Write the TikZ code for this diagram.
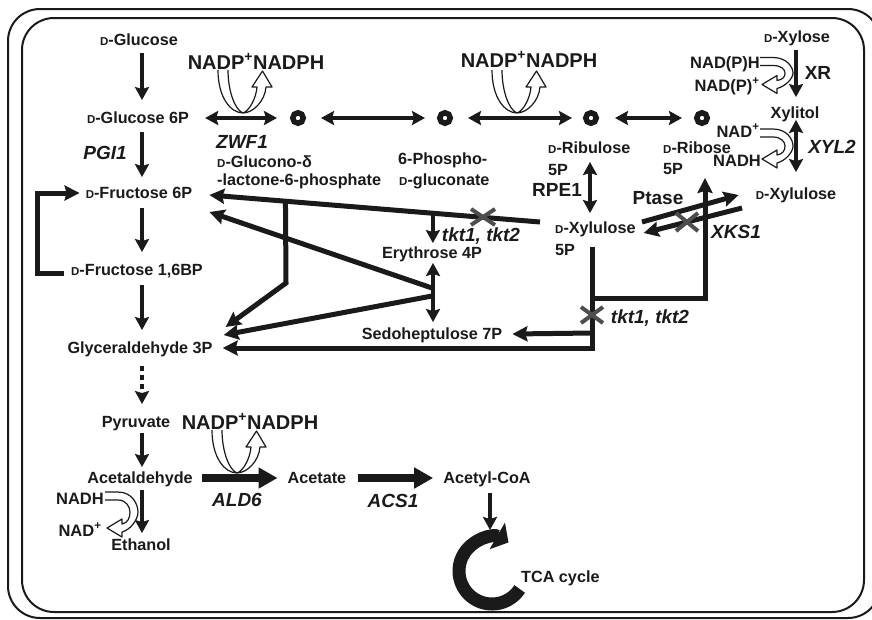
\documentclass[tikz,border=0pt]{standalone}
\usepackage{fontspec}
\setmainfont{Liberation Sans}
\usetikzlibrary{arrows.meta,calc}

% small capital D for the D-sugars
\newcommand\smD{{\fontsize{11.5}{12}\selectfont D}}
\definecolor{ink}{HTML}{1A1A1A}
\definecolor{xgray}{HTML}{4D4D4D}

\tikzset{
  every node/.style={inner sep=0pt, text=ink},
  nm/.style={font=\bfseries\fontsize{16.2}{18}\selectfont, text height=11.5pt, text depth=0pt},
  enz/.style={font=\bfseries\itshape\fontsize{19}{21}\selectfont, text height=13.5pt, text depth=0pt},
  big/.style={font=\bfseries\fontsize{20}{22}\selectfont, text height=14.5pt, text depth=0pt},
  midf/.style={font=\bfseries\fontsize{19}{21}\selectfont, text height=13.5pt, text depth=0pt},
  cof/.style={font=\bfseries\fontsize{16.5}{18}\selectfont, text height=12pt, text depth=0pt},
  tipA/.tip={Stealth[length=13pt,width=14pt,inset=2pt]},
  tipB/.tip={Stealth[length=15pt,width=15pt,inset=2pt]},
  arr/.style={draw=ink, line width=4.6, -tipA},
  darr/.style={draw=ink, line width=4.2, tipA-tipA},
  route/.style={draw=ink, line width=5, -tipB},
  thk/.style={draw=ink, line width=8, -{Triangle[length=19pt,width=20pt]}},
  ring/.style={circle, draw=ink, line width=5.5, minimum size=10.5pt},
  gx/.style={draw=xgray, line width=4},
  frame/.style={draw=ink, line width=2, rounded corners=32},
  openarr/.style={fill=white, draw=ink, line width=1.2, line join=round},
  % open U arrow: cofactor in, cofactor out (origin at its lowest point)
  uarr/.pic={
    \path[openarr] (-25,-43) .. controls (-25,-15) and (-12,0) .. (0,0)
      .. controls (10,0) and (22,-12) .. (23,-26) -- (29,-26) -- (19.5,-42)
      -- (9,-26) -- (14,-26) .. controls (13,-14) and (6,-2) .. (0,0)
      .. controls (-8,-3) and (-15,-22) .. (-15,-43);
  },
  % open side arrow: upper cofactor in, lower cofactor out (origin at its rightmost point)
  pics/sidearr/.style={code={
    \def\h{#1}
    \path[openarr] (-33,{-\h-4}) -- (-20,{-\h-4}) .. controls (-6,{-\h-4}) and (0,{-\h/2}) .. (0,0)
      .. controls (0,{\h/2}) and (-8,{\h+2}) .. (-16,{\h+4}) -- (-16,{\h+9}) -- (-31,{\h})
      -- (-16,{\h-9}) -- (-16,{\h-4}) .. controls (-10,{\h-5}) and (-8,{\h/3}) .. (-8,0)
      .. controls (-8,{-\h/3}) and (-12,{-\h+4}) .. (-20,{-\h+4}) -- (-33,{-\h+4});
  }},
}

\begin{document}
\begin{tikzpicture}[x=1pt,y=-1pt]
\useasboundingbox (0,0) rectangle (872,619);

% double rounded frame
\draw[frame] (8,9) rectangle (880,618);
\draw[frame] (22,18) rectangle (864,612);

% open cofactor arrows (drawn first so the labels sit on top)
\pic at (243,113) {uarr};
\pic at (517,113) {uarr};
\pic at (237,473) {uarr};
\pic at (793,73) {sidearr=11.5};
\pic at (793,146) {sidearr=13};
\pic at (138,512) {sidearr=16};

% ---- glycolysis column ----
\coordinate (cx) at (142,0);
\node[nm] (glc) at (139,40) {\smD-Glucose};
\node[nm] (g6p) at (138,118) {\smD-Glucose 6P};
\node[nm] (f6p) at (139,193) {\smD-Fructose 6P};
\node[nm] (fbp) at (137,270) {\smD-Fructose 1,6BP};
\node[nm] (gap) at (140,348) {Glyceraldehyde 3P};
\node[nm] (pyr) at (136,422) {Pyruvate};
\node[nm] (acd) at (140,478) {Acetaldehyde};
\node[nm] (eth) at (141,545) {Ethanol};
\node[enz] (pgi) at (105,153) {PGI1};

\draw[arr, shorten <=7pt, shorten >=12pt] (glc.south -| cx) -- (g6p.north -| cx);
\draw[arr, shorten <=8pt, shorten >=10pt] (g6p.south -| cx) -- (f6p.north -| cx);
\draw[arr, shorten <=9pt, shorten >=12pt] (f6p.south -| cx) -- (fbp.north -| cx);
\draw[arr, shorten <=9pt, shorten >=12pt] (fbp.south -| cx) -- (gap.north -| cx);
\draw[arr, dash pattern=on 5pt off 4pt, shorten <=12pt, shorten >=12pt] (gap.south -| cx) -- (pyr.north -| cx);
\draw[arr, shorten <=5pt, shorten >=5pt] (pyr.south -| cx) -- (acd.north -| cx);
\draw[arr, shorten <=6pt, shorten >=6pt] (acd.south -| cx) -- (eth.north -| cx);

% gluconeogenic loop F-1,6-BP -> F6P
\coordinate (lp) at (37,0);
\draw[route] ($(fbp.west)+(-7,3)$) -| (lp |- f6p.west) -- ($(f6p.west)+(-6,0)$);

% ---- oxidative pentose phosphate branch ----
\node[ring] (c1) at (298,118) {};
\node[ring] (c2) at (445,118) {};
\node[ring] (c3) at (591,118) {};
\node[ring] (c4) at (702,118) {};
\draw[darr, shorten <=16pt, shorten >=13pt] (g6p.east) -- (c1.west);
\draw[darr, shorten <=15pt, shorten >=12pt] (c1.east) -- (c2.west);
\draw[darr, shorten <=15pt, shorten >=11pt] (c2.east) -- (c3.west);
\draw[darr, shorten <=16pt, shorten >=12pt] (c3.east) -- (c4.west);

\node[enz] (zwf) at (242,142) {ZWF1};
\node[nm, anchor=west] (gl1) at (217,162) {\smD-Glucono-δ};
\node[nm, anchor=west] (gl2) at (217,180) {-lactone-6-phosphate};
\node[nm, anchor=west] (pg1) at (398,159) {6-Phospho-};
\node[nm, anchor=west] (pg2) at (399,180) {\smD-gluconate};

\node[big] (np1) at (256,62) {NADP\textsuperscript{+}NADPH};
\node[big] (np2) at (529,60) {NADP\textsuperscript{+}NADPH};

% ---- non-oxidative part ----
\node[nm, anchor=west] (ru1) at (548,148) {\smD-Ribulose};
\node[nm, anchor=west] (ru2) at (548,170) {5P};
\node[midf] (rpe) at (557,190) {RPE1};
\node[nm, anchor=west] (xu1) at (555,228) {\smD-Xylulose};
\node[nm, anchor=west] (xu2) at (555,250) {5P};
\node[nm, anchor=west] (ri1) at (663,148) {\smD-Ribose};
\node[nm, anchor=west] (ri2) at (663,169) {5P};
\coordinate (rx) at (590,0);
\draw[darr, shorten <=8pt, shorten >=9pt] (ru1.south -| rx) -- (xu1.north -| rx);

\node[nm] (e4p) at (432,253) {Erythrose 4P};
\node[nm] (s7p) at (432,334) {Sedoheptulose 7P};
\node[enz] (tk1) at (481,235) {tkt1, tkt2};
\node[enz] (tk2) at (650,317) {tkt1, tkt2};

% Xu5P stem to GAP, with branches to Ru5P side and S7P
\coordinate (xv) at (592,247);
\coordinate (xc) at (592,348);
\coordinate (xb) at (592,298);
\coordinate (xs) at (592,333);
\coordinate (rb) at (705,298);
\draw[route] (xv) -- (xc) -- ($(gap.east)+(10,0)$);
\draw[route] (xb) -- (rb) -- ($(ri2.south -| rb)+(0,3)$);
\draw[route] (xs) -- ($(s7p.east)+(10,0)$);

% transketolase line from Xu5P to F6P, with its branches
\coordinate (fa) at (540,222);
\coordinate (f6pA) at ($(f6p.east)+(17,2)$);
\coordinate (fb) at ($(fa)!0.324!(f6pA)$);
\coordinate (fc) at ($(fa)!0.770!(f6pA)$);
\coordinate (fd) at (286,283);
\draw[route] (fa) -- (f6pA);
\draw[arr, shorten >=4pt] (fb) -- (e4p.north -| fb);
\draw[route] (fc) -- (fd) -- ($(gap.east)+(13,-21)$);

% transaldolase lines from E4P/S7P junction
\coordinate (ea) at (432,288);
\coordinate (eb) at (432,296);
\draw[route] (ea) -- ($(f6p.east)+(17,19)$);
\draw[route] (eb) -- ($(gap.east)+(11,-13)$);
\coordinate (ex) at (433,0);
\draw[darr, shorten <=4pt, shorten >=6pt] (e4p.south -| ex) -- (s7p.north -| ex);

% ---- xylose utilisation ----
\node[nm] (xyl) at (797,37) {\smD-Xylose};
\node[nm] (xlt) at (795,113) {Xylitol};
\node[nm] (xlu) at (796,194) {\smD-Xylulose};
\node[cof] (nph) at (725,62) {NAD(P)H};
\node[cof] (npp) at (727,85) {NAD(P)\textsuperscript{+}};
\node[midf] (xr) at (818,73) {XR};
\node[cof] (nad1) at (738,131) {NAD\textsuperscript{+}};
\node[cof] (nadh1) at (737,160) {NADH};
\node[enz] (xyl2) at (832,147) {XYL2};
\coordinate (vx) at (796,0);
\draw[arr, shorten <=7pt, shorten >=10pt] (xyl.south -| vx) -- (xlt.north -| vx);
\draw[darr, shorten <=1pt, shorten >=16pt] (xlt.south -| vx) -- (xlu.north -| vx);

\node[midf] (pt) at (658,198) {Ptase};
\node[enz] (xks) at (736,232) {XKS1};
\coordinate (pa) at (642,222);
\coordinate (ka) at (742,208);
\draw[route] (pa) -- ($(xlu.west)+(-17,1)$);
\draw[route] (ka) -- ($(xu1.east)+(8,5)$);

% blocked reactions
\draw[gx] (471,209) -- (495,225) (471,225) -- (495,209);
\draw[gx] (676,213) -- (698,231) (676,231) -- (698,213);
\draw[gx] (581,307) -- (603,323) (581,323) -- (603,307);

% ---- acetate branch ----
\node[nm] (ace) at (317,478) {Acetate};
\node[nm] (aco) at (487,478) {Acetyl-CoA};
\node[enz] (ald) at (237,500) {ALD6};
\node[enz] (acs) at (393,501) {ACS1};
\node[big] (np3) at (250,422) {NADP\textsuperscript{+}NADPH};
\draw[thk] ($(acd.east)+(9,0)$) -- ($(ace.west)+(-10,0)$);
\draw[thk] ($(ace.east)+(12,0)$) -- ($(aco.west)+(-10,0)$);

\node[cof] (nadh2) at (80,498) {NADH};
\node[cof] (nad2) at (80,530) {NAD\textsuperscript{+}};

% TCA cycle
\coordinate (tc) at (492,571);
\coordinate (ax) at (490,0);
\draw[arr, shorten <=9pt] (aco.south -| ax) -- (ax |- 0,530);
\draw[draw=ink, line width=13, -{Triangle[length=13pt,width=30pt]}]
  ($(tc)+(33:33)$) arc[start angle=33, end angle=300, radius=33];
\node[nm, anchor=west] (tca) at (521,577) {TCA cycle};

\end{tikzpicture}
\end{document}
